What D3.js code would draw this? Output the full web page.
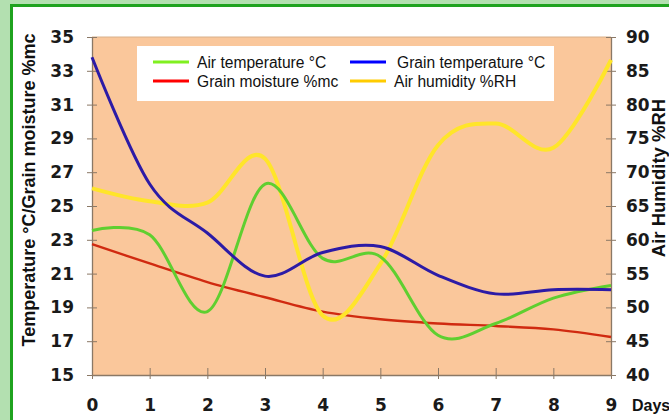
<!DOCTYPE html>
<html><head><meta charset="utf-8">
<script src="https://cdn.jsdelivr.net/npm/d3@7/dist/d3.min.js"></script>
<style>html,body{margin:0;padding:0;background:#b3e0b0;overflow:hidden}</style>
</head><body><svg id="c" width="669" height="420"></svg>
<script>
const days = [0,1,2,3,4,5,6,7,8,9];
const airTemp = [23.55,23.3,18.75,26.3,21.9,22.0,17.35,18.05,19.55,20.3];
const grainTemp = [33.8,26.3,23.4,20.85,22.25,22.6,20.9,19.8,20.05,20.05];
const grainMoist = [22.75,21.6,20.5,19.6,18.75,18.3,18.05,17.9,17.7,17.25];
const airHum = [67.6,65.7,65.5,72.0,48.8,56.4,74.0,77.2,73.6,86.6];
const leftTicks = [15,17,19,21,23,25,27,29,31,33,35];
const rightTicks = [40,45,50,55,60,65,70,75,80,85,90];
const legendNames = ["Air temperature °C","Grain temperature °C","Grain moisture %mc","Air humidity %RH"];

const svg = d3.select("#c");
svg.append("rect").attr("width",669).attr("height",420).attr("fill","#b3e0b0");
svg.append("rect").attr("x",11.5).attr("y",5.5).attr("width",700).attr("height",500)
  .attr("fill","#fff").attr("stroke","#1fa31f").attr("stroke-width",3);

const L=92,R=611,T=37,B=375;
const x = d3.scaleLinear().domain([0,9]).range([L,R]);
const yL = d3.scaleLinear().domain([15,35]).range([B,T]);
const yR = d3.scaleLinear().domain([40,90]).range([B,T]);

svg.append("rect").attr("x",L).attr("y",T).attr("width",R-L).attr("height",B-T).attr("fill","#fac79b");
svg.append("line").attr("x1",L).attr("x2",R).attr("y1",T).attr("y2",T).attr("stroke","#d8b08a").attr("stroke-width",1);

const axisCol="#8a7866";
const tickFont = "DejaVu Sans, Verdana, sans-serif";

const gl = svg.append("g").attr("transform",`translate(${L},0)`)
  .call(d3.axisLeft(yL).tickValues(leftTicks).tickSizeInner(0).tickSizeOuter(0).tickPadding(18));
gl.selectAll(".tick").append("line").attr("x1",-5).attr("x2",5).attr("stroke",axisCol);
const gr = svg.append("g").attr("transform",`translate(${R},0)`)
  .call(d3.axisRight(yR).tickValues(rightTicks).tickSizeInner(0).tickSizeOuter(0).tickPadding(15));
gr.selectAll(".tick").append("line").attr("x1",-5).attr("x2",5).attr("stroke",axisCol);
const gb = svg.append("g").attr("transform",`translate(0,${B})`)
  .call(d3.axisBottom(x).tickValues(days).tickFormat(d3.format("d")).tickSizeInner(0).tickSizeOuter(0).tickPadding(24));
gb.selectAll(".tick").append("line").attr("y1",-7).attr("y2",4).attr("stroke",axisCol);
[gl,gr,gb].forEach(g=>{
  g.select(".domain").attr("stroke",axisCol).attr("stroke-width",1.3);
  g.selectAll("text").attr("font-family",tickFont).attr("font-weight","bold").attr("font-size",17).attr("fill","#1a1a1a");
});

const curve = d3.curveCardinal.tension(0);
function draw(vals, ys, col, w){
  svg.append("path").datum(vals)
    .attr("d", d3.line().x((d,i)=>x(days[i])).y(d=>ys(d)).curve(curve))
    .attr("fill","none").attr("stroke",col).attr("stroke-width",w).attr("stroke-linejoin","round");
}
draw(grainMoist, yL, "#d02a10", 2.4);
draw(airHum, yR, "#ffe52a", 4);
draw(airTemp, yL, "#5fcf30", 3);
draw(grainTemp, yL, "#2c1ba6", 3);

// legend
const lg = svg.append("g");
lg.append("rect").attr("x",137).attr("y",46).attr("width",417).attr("height",55).attr("fill","#fff");
const legCols = ["#80f020","#0000ff","#ff0000","#ffcc00"];
const legPos = [[153,62],[350,62],[153,81],[350,81]];
const textX = [197,397,197,394];
legendNames.forEach((n,i)=>{
  lg.append("line").attr("x1",legPos[i][0]).attr("x2",legPos[i][0]+36)
    .attr("y1",legPos[i][1]).attr("y2",legPos[i][1]).attr("stroke",legCols[i]).attr("stroke-width",3);
  lg.append("text").attr("x",textX[i]).attr("y",legPos[i][1]+5.5).text(n)
    .attr("font-family","Liberation Sans, Arial, sans-serif").attr("font-size",15.6).attr("fill","#111");
});

// axis titles
svg.append("text").attr("transform","translate(35,190) rotate(-90)").attr("text-anchor","middle")
  .attr("font-family","Liberation Sans, Arial, sans-serif").attr("font-weight","bold").attr("font-size",18)
  .attr("fill","#111").text("Temperature °C/Grain moisture %mc");
svg.append("text").attr("transform","translate(665,178) rotate(-90)").attr("text-anchor","middle")
  .attr("font-family","Liberation Sans, Arial, sans-serif").attr("font-weight","bold").attr("font-size",18.5)
  .attr("fill","#111").text("Air Humidity %RH");
svg.append("text").attr("x",632).attr("y",411)
  .attr("font-family","Liberation Sans, Arial, sans-serif").attr("font-weight","bold").attr("font-size",16)
  .attr("fill","#111").text("Days");
</script></body></html>
